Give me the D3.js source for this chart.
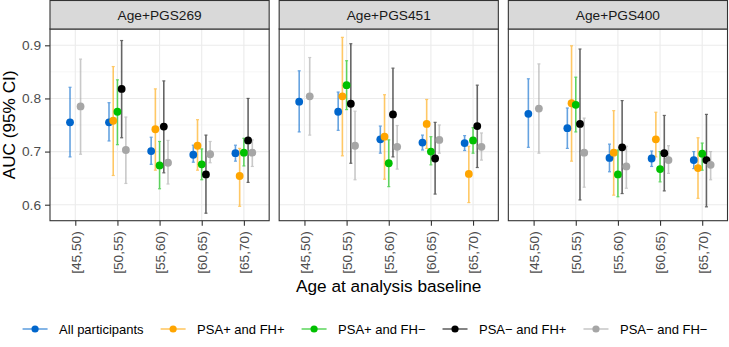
<!DOCTYPE html>
<html><head><meta charset="utf-8">
<script src="https://cdn.jsdelivr.net/npm/d3@7"></script>
<style>body{margin:0;background:#fff;}svg{display:block;font-family:"Liberation Sans",Arial,sans-serif;}</style>
</head><body><svg id="c" width="729" height="347"></svg>
<script>
const panels = ["Age+PGS269", "Age+PGS451", "Age+PGS400"];
const ageGroups = ["[45,50)", "[50,55)", "[55,60)", "[60,65)", "[65,70)"];
const seriesNames = ["All participants", "PSA+ and FH+", "PSA+ and FH\u2212", "PSA\u2212 and FH+", "PSA\u2212 and FH\u2212"];
const seriesColors = ["#0066CC", "#FFA500", "#00C000", "#000000", "#A6A6A6"];
const yTicks = [0.6, 0.7, 0.8, 0.9];
const yMinor = [0.65, 0.75, 0.85];

// [AUC, lower, upper] per age group; null = not estimated
const pgs269_all   = [[0.755,0.690,0.821],[0.755,0.720,0.792],[0.701,0.676,0.727],[0.694,0.680,0.712],[0.697,0.682,0.712]];
const pgs269_pfp   = [null,[0.758,0.655,0.860],[0.742,0.665,0.818],[0.711,0.665,0.760],[0.654,0.597,0.706]];
const pgs269_pfn   = [null,[0.775,0.713,0.835],[0.674,0.630,0.719],[0.676,0.647,0.705],[0.698,0.673,0.725]];
const pgs269_nfp   = [null,[0.818,0.726,0.909],[0.747,0.660,0.833],[0.657,0.584,0.731],[0.721,0.642,0.800]];
const pgs269_nfn   = [[0.785,0.695,0.874],[0.703,0.640,0.765],[0.679,0.639,0.721],[0.695,0.679,0.719],[0.698,0.672,0.722]];

const pgs451_all   = [[0.794,0.737,0.852],[0.775,0.740,0.812],[0.723,0.697,0.748],[0.717,0.703,0.731],[0.716,0.702,0.730]];
const pgs451_pfp   = [null,[0.804,0.692,0.915],[0.728,0.648,0.807],[0.752,0.706,0.798],[0.658,0.604,0.710]];
const pgs451_pfn   = [null,[0.825,0.779,0.871],[0.678,0.634,0.722],[0.700,0.675,0.728],[0.721,0.697,0.745]];
const pgs451_nfp   = [null,[0.790,0.678,0.903],[0.770,0.690,0.857],[0.687,0.620,0.755],[0.748,0.670,0.825]];
const pgs451_nfn   = [[0.804,0.731,0.877],[0.711,0.647,0.776],[0.709,0.667,0.749],[0.722,0.697,0.750],[0.709,0.684,0.735]];

const pgs400_all   = [[0.771,0.708,0.837],[0.744,0.706,0.782],[0.688,0.662,0.714],[0.687,0.672,0.701],[0.684,0.668,0.700]];
const pgs400_pfp   = [null,[0.791,0.682,0.899],[0.698,0.618,0.777],[0.723,0.690,0.774],[0.669,0.612,0.726]];
const pgs400_pfn   = [null,[0.788,0.737,0.840],[0.657,0.615,0.703],[0.667,0.643,0.700],[0.696,0.665,0.716]];
const pgs400_nfp   = [null,[0.752,0.609,0.893],[0.708,0.621,0.796],[0.697,0.626,0.768],[0.684,0.596,0.770]];
const pgs400_nfn   = [[0.781,0.697,0.865],[0.698,0.633,0.763],[0.672,0.631,0.710],[0.684,0.659,0.711],[0.675,0.647,0.700]];

const panelData = [
  [pgs269_all, pgs269_pfp, pgs269_pfn, pgs269_nfp, pgs269_nfn],
  [pgs451_all, pgs451_pfp, pgs451_pfn, pgs451_nfp, pgs451_nfn],
  [pgs400_all, pgs400_pfp, pgs400_pfn, pgs400_nfp, pgs400_nfn]
];

const svg = d3.select("#c");
const left = 50, right = 727.5, gap = 10;
const stripTop = 0.5, panelTop = 29, panelBottom = 220.7;
const pw = (right - left - 2 * gap) / 3;
const font = "\"Liberation Sans\",Arial,sans-serif";
const tickCol = "#4D4D4D";

const y = d3.scaleLinear().domain([0.5699, 0.9307]).range([panelBottom, panelTop]);

panels.forEach((name, p) => {
  const x0 = left + p * (pw + gap);
  const x = d3.scaleLinear().domain([0.4, ageGroups.length + 0.6]).range([x0, x0 + pw]);
  const g = svg.append("g");
  g.append("rect").attr("x", x0).attr("y", panelTop).attr("width", pw).attr("height", panelBottom - panelTop).attr("fill", "#fff");
  g.selectAll(".mn").data(yMinor).join("line")
    .attr("x1", x0).attr("x2", x0 + pw).attr("y1", d => y(d)).attr("y2", d => y(d))
    .attr("stroke", "#F0F0F0").attr("stroke-width", 0.6);
  g.selectAll(".mj").data(yTicks).join("line")
    .attr("x1", x0).attr("x2", x0 + pw).attr("y1", d => y(d)).attr("y2", d => y(d))
    .attr("stroke", "#EBEBEB").attr("stroke-width", 1.1);
  g.selectAll(".mx").data(ageGroups).join("line")
    .attr("x1", (d, i) => x(i + 1)).attr("x2", (d, i) => x(i + 1)).attr("y1", panelTop).attr("y2", panelBottom)
    .attr("stroke", "#EBEBEB").attr("stroke-width", 1.1);

  const series = panelData[p];
  ageGroups.forEach((ag, i) => {
    const present = series.map((s, k) => s[i] ? k : -1).filter(k => k >= 0);
    const n = present.length;
    const w = 0.5 / n;
    present.forEach((k, j) => {
      const v = series[k][i];
      const cx = x(i + 1 - 0.25 + w * (j + 0.5));
      const col = seriesColors[k];
      const eb = g.append("g").attr("opacity", 0.6);
      eb.append("line").attr("x1", cx).attr("x2", cx).attr("y1", y(v[1])).attr("y2", y(v[2]))
        .attr("stroke", col).attr("stroke-width", 1.6);
      [v[1], v[2]].forEach(b => eb.append("line").attr("x1", cx - 1.5).attr("x2", cx + 1.5)
        .attr("y1", y(b)).attr("y2", y(b)).attr("stroke", col).attr("stroke-width", 1.2));
    });
    present.forEach((k, j) => {
      const v = series[k][i];
      const cx = x(i + 1 - 0.25 + w * (j + 0.5));
      g.append("circle").attr("cx", cx).attr("cy", y(v[0])).attr("r", 3.9).attr("fill", seriesColors[k]);
    });
  });

  g.append("rect").attr("x", x0).attr("y", panelTop).attr("width", pw).attr("height", panelBottom - panelTop)
    .attr("fill", "none").attr("stroke", "#333333").attr("stroke-width", 1.1);
  g.append("rect").attr("x", x0).attr("y", stripTop).attr("width", pw).attr("height", panelTop - stripTop)
    .attr("fill", "#D9D9D9").attr("stroke", "#333333").attr("stroke-width", 1.1);
  g.append("text").attr("x", x0 + pw / 2).attr("y", (stripTop + panelTop) / 2).attr("dy", "0.35em")
    .attr("text-anchor", "middle").attr("font-size", 13.7).attr("fill", "#1A1A1A").text(name);

  const xa = g.append("g").attr("transform", `translate(0,${panelBottom})`)
    .call(d3.axisBottom(x).tickValues(ageGroups.map((d, i) => i + 1)).tickFormat((d, i) => ageGroups[i]).tickSize(5).tickSizeOuter(0).tickPadding(6));
  xa.select(".domain").remove();
  xa.selectAll(".tick line").attr("stroke", "#333333").attr("stroke-width", 1.1);
  xa.selectAll(".tick text").attr("transform", "rotate(-90)").attr("text-anchor", "end")
    .attr("x", -10.5).attr("y", 0).attr("dy", "0.35em").attr("font-size", 13.7).attr("fill", tickCol).attr("font-family", font);

  if (p === 0) {
    const ya = g.append("g").attr("transform", `translate(${x0},0)`)
      .call(d3.axisLeft(y).tickValues(yTicks).tickFormat(d3.format(".1f")).tickSize(5).tickSizeOuter(0).tickPadding(4));
    ya.select(".domain").remove();
    ya.selectAll(".tick line").attr("stroke", "#333333").attr("stroke-width", 1.1);
    ya.selectAll(".tick text").attr("font-size", 13.7).attr("fill", tickCol).attr("font-family", font);
  }
});

svg.append("text").attr("x", (left + right) / 2).attr("y", 291.5).attr("text-anchor", "middle")
  .attr("font-size", 17.2).attr("fill", "#000").text("Age at analysis baseline");
svg.append("text").attr("transform", `translate(15,${(panelTop + panelBottom) / 2}) rotate(-90)`)
  .attr("text-anchor", "middle").attr("font-size", 17.2).attr("fill", "#000").text("AUC (95% CI)");

const ly = 329, keyW = 25, keyGap = 11.5, itemGap = 17;
const lg = svg.append("g");
const items = seriesNames.map((nm, k) => {
  const it = lg.append("g");
  it.append("line").attr("x1", 0).attr("x2", keyW).attr("y1", ly).attr("y2", ly)
    .attr("stroke", seriesColors[k]).attr("stroke-width", 1.6).attr("opacity", 0.6);
  it.append("circle").attr("cx", keyW / 2).attr("cy", ly).attr("r", 3.6).attr("fill", seriesColors[k]);
  const t = it.append("text").attr("x", keyW + keyGap).attr("y", ly).attr("dy", "0.35em")
    .attr("font-size", 13).attr("fill", "#000").text(nm);
  return { g: it, w: keyW + keyGap + t.node().getComputedTextLength() };
});
const total = d3.sum(items, d => d.w) + itemGap * (items.length - 1);
let cx = 365 - total / 2;
items.forEach(it => { it.g.attr("transform", `translate(${cx},0)`); cx += it.w + itemGap; });
</script></body></html>
